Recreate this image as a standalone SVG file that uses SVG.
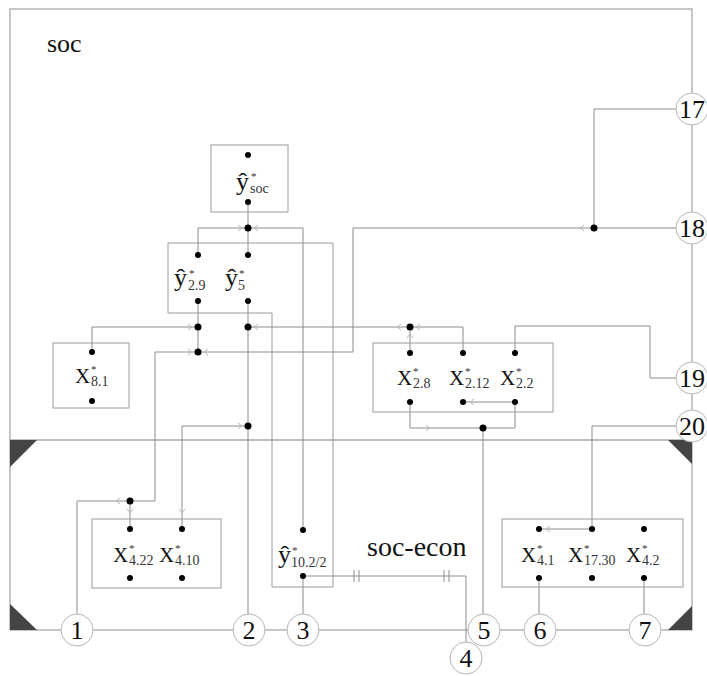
<svg xmlns="http://www.w3.org/2000/svg" width="707" height="676" viewBox="0 0 707 676">
<style>
.frame{fill:none;stroke:#a8a8a8;stroke-width:1.3}
.box{fill:none;stroke:#9a9a9a;stroke-width:1}
.c{fill:none;stroke:#8c8c8c;stroke-width:1}
.ar{fill:none;stroke:#b8b8b8;stroke-width:1}
.tri{fill:#444}
.dot{fill:#000}
.circ{fill:#fff;stroke:#b5b5b5;stroke-width:1}
text{font-family:'Liberation Serif','Times New Roman','DejaVu Serif',serif}
.num{font-size:26px;text-anchor:middle;fill:#111}
.lab{fill:#111}
.big{font-size:21px}
.hat{font-size:26px}
.sub{font-size:14px;fill:#333}
.st{font-size:11px;fill:#333}
.title{fill:#111}
</style>
<rect class="frame" x="10" y="9" width="682" height="621"/>
<line class="frame" x1="10" y1="440" x2="692" y2="440"/>
<polygon class="tri" points="10,440 37,440 10,467"/>
<polygon class="tri" points="668,440 692,440 692,464"/>
<polygon class="tri" points="10,604 10,630 37,630"/>
<polygon class="tri" points="692,606 692,630 668,630"/>
<text class="title" x="47" y="52" font-size="26">soc</text>
<text class="title" x="367" y="556" font-size="28">soc-econ</text>
<g id="connectors">
<polyline class="c" points="248,202 248,255"/>
<polyline class="c" points="198,255 198,228 303,228 303,530"/>
<polyline class="c" points="198,301 198,352"/>
<polyline class="c" points="248,301 248,614"/>
<polyline class="c" points="92,352 92,327 198,327"/>
<polyline class="c" points="248,327 410,327 410,352"/>
<polyline class="c" points="410,327 463,327 463,352"/>
<polyline class="c" points="515,352 515,326 650,326 650,378 676,378"/>
<polyline class="c" points="676,228 353,228 353,352 198,352"/>
<polyline class="c" points="676,109 594,109 594,228"/>
<polyline class="c" points="130,529 130,501 155,501 155,352 198,352"/>
<polyline class="c" points="130,501 77,501 77,614"/>
<polyline class="c" points="182,529 182,426 248,426"/>
<polyline class="c" points="303,576 303,614"/>
<polyline class="c" points="303,576 466,576 466,642"/>
<polyline class="c" points="463,402 515,402"/>
<polyline class="c" points="410,402 410,428 515,428 515,402"/>
<polyline class="c" points="483,428 483,614"/>
<polyline class="c" points="539,529 592,529"/>
<polyline class="c" points="592,529 592,426 676,426"/>
<polyline class="c" points="539,578 539,614"/>
<polyline class="c" points="644,578 644,614"/>
<path class="c" d="M354,570v12M359,570v12M444,570v12M449,570v12"/>
<path class="ar" d="M238,225l4,3l-4,3M258,225l-4,3l4,3M188,324l4,3l-4,3M188,349l4,3l-4,3M208,349l-4,3l4,3M258,324l-4,3l4,3M401,324l-4,3l4,3M420,324l-4,3l4,3M407,338l3,-4l3,4M584,225l-4,3l4,3M474,399l-4,3l4,3M426,425l4,3l-4,3M550,526l-4,3l4,3M120,498l-4,3l4,3M127,509l3,4l3,-4M179,509l3,4l3,-4M238,423l4,3l-4,3"/>
<circle class="dot" cx="248" cy="228" r="3.5"/>
<circle class="dot" cx="198" cy="327" r="3.5"/>
<circle class="dot" cx="198" cy="352" r="3.5"/>
<circle class="dot" cx="248" cy="327" r="3.5"/>
<circle class="dot" cx="410" cy="327" r="3.5"/>
<circle class="dot" cx="594" cy="228" r="3.5"/>
<circle class="dot" cx="130" cy="501" r="3.5"/>
<circle class="dot" cx="248" cy="426" r="3.5"/>
<circle class="dot" cx="483" cy="428" r="3.5"/>
</g>
<g id="n-ysoc">
<rect class="box" x="211" y="145" width="77" height="67"/>
<circle class="dot" cx="248" cy="155" r="3"/>
<circle class="dot" cx="248" cy="202" r="3"/>
<text class="lab hat" x="236" y="190">ŷ</text>
<text class="lab st" x="251" y="180">*</text>
<text class="lab sub" x="250" y="193">soc</text>
</g>
<g id="n-y29-y5-y10">
<polygon class="box" points="168,243 333,243 333,587 272,587 272,313 168,313"/>
<circle class="dot" cx="198" cy="255" r="3"/>
<circle class="dot" cx="198" cy="301" r="3"/>
<circle class="dot" cx="248" cy="255" r="3"/>
<circle class="dot" cx="248" cy="301" r="3"/>
<circle class="dot" cx="303" cy="530" r="3"/>
<circle class="dot" cx="303" cy="576" r="3"/>
<text class="lab hat" x="174" y="286">ŷ</text>
<text class="lab st" x="189" y="277">*</text>
<text class="lab sub" x="188" y="290">2.9</text>
<text class="lab hat" x="225" y="286">ŷ</text>
<text class="lab st" x="239" y="277">*</text>
<text class="lab sub" x="238" y="290">5</text>
<text class="lab hat" x="278" y="563">ŷ</text>
<text class="lab st" x="292" y="554">*</text>
<text class="lab sub" x="291" y="567">10.2/2</text>
</g>
<g id="n-x81">
<rect class="box" x="53" y="343" width="76" height="65"/>
<circle class="dot" cx="92" cy="352" r="3"/>
<circle class="dot" cx="92" cy="401" r="3"/>
<text class="lab big" x="75" y="383">X</text>
<text class="lab st" x="91" y="373">*</text>
<text class="lab sub" x="91" y="386">8.1</text>
</g>
<g id="n-x2">
<rect class="box" x="373" y="343" width="180" height="69"/>
<circle class="dot" cx="410" cy="353" r="3"/>
<circle class="dot" cx="463" cy="353" r="3"/>
<circle class="dot" cx="515" cy="353" r="3"/>
<circle class="dot" cx="410" cy="402" r="3"/>
<circle class="dot" cx="463" cy="402" r="3"/>
<circle class="dot" cx="515" cy="402" r="3"/>
<text class="lab big" x="397" y="385">X</text>
<text class="lab st" x="413" y="375">*</text>
<text class="lab sub" x="413" y="388">2.8</text>
<text class="lab big" x="449" y="385">X</text>
<text class="lab st" x="465" y="375">*</text>
<text class="lab sub" x="465" y="388">2.12</text>
<text class="lab big" x="500" y="385">X</text>
<text class="lab st" x="516" y="375">*</text>
<text class="lab sub" x="516" y="388">2.2</text>
</g>
<g id="n-x4a">
<rect class="box" x="92" y="519" width="129" height="69"/>
<circle class="dot" cx="130" cy="529" r="3"/>
<circle class="dot" cx="182" cy="529" r="3"/>
<circle class="dot" cx="130" cy="578" r="3"/>
<circle class="dot" cx="182" cy="578" r="3"/>
<text class="lab big" x="113" y="562">X</text>
<text class="lab st" x="129" y="552">*</text>
<text class="lab sub" x="129" y="565">4.22</text>
<text class="lab big" x="159" y="562">X</text>
<text class="lab st" x="175" y="552">*</text>
<text class="lab sub" x="175" y="565">4.10</text>
</g>
<g id="n-x4b">
<rect class="box" x="502" y="519" width="181" height="68"/>
<circle class="dot" cx="539" cy="529" r="3"/>
<circle class="dot" cx="592" cy="529" r="3"/>
<circle class="dot" cx="644" cy="529" r="3"/>
<circle class="dot" cx="539" cy="578" r="3"/>
<circle class="dot" cx="592" cy="578" r="3"/>
<circle class="dot" cx="644" cy="578" r="3"/>
<text class="lab big" x="521" y="562">X</text>
<text class="lab st" x="537" y="552">*</text>
<text class="lab sub" x="537" y="565">4.1</text>
<text class="lab big" x="568" y="562">X</text>
<text class="lab st" x="584" y="552">*</text>
<text class="lab sub" x="584" y="565">17.30</text>
<text class="lab big" x="626" y="562">X</text>
<text class="lab st" x="642" y="552">*</text>
<text class="lab sub" x="642" y="565">4.2</text>
</g>
<g id="p1"><circle class="circ" cx="77" cy="630" r="16"/><text class="num" x="77" y="639">1</text></g>
<g id="p2"><circle class="circ" cx="249" cy="630" r="16"/><text class="num" x="249" y="639">2</text></g>
<g id="p3"><circle class="circ" cx="303" cy="630" r="16"/><text class="num" x="303" y="639">3</text></g>
<g id="p4"><circle class="circ" cx="466" cy="658" r="16"/><text class="num" x="466" y="667">4</text></g>
<g id="p5"><circle class="circ" cx="484" cy="630" r="16"/><text class="num" x="484" y="639">5</text></g>
<g id="p6"><circle class="circ" cx="540" cy="630" r="16"/><text class="num" x="540" y="639">6</text></g>
<g id="p7"><circle class="circ" cx="645" cy="630" r="16"/><text class="num" x="645" y="639">7</text></g>
<g id="p17"><circle class="circ" cx="692" cy="109" r="16"/><text class="num" x="692" y="118">17</text></g>
<g id="p18"><circle class="circ" cx="692" cy="228" r="16"/><text class="num" x="692" y="237">18</text></g>
<g id="p19"><circle class="circ" cx="692" cy="378" r="16"/><text class="num" x="692" y="387">19</text></g>
<g id="p20"><circle class="circ" cx="692" cy="426" r="16"/><text class="num" x="692" y="435">20</text></g>
</svg>
